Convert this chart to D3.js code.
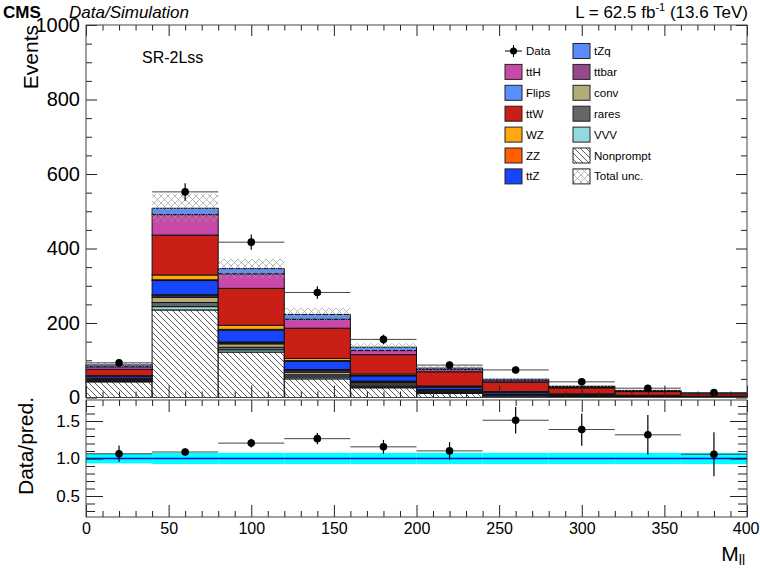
<!DOCTYPE html>
<html>
<head>
<meta charset="utf-8">
<script src="https://cdn.jsdelivr.net/npm/d3@7"></script>
<style>
  body { margin: 0; background: #fff; }
  text { font-family: "Liberation Sans", Arial, Helvetica, sans-serif; fill: #000; }
</style>
</head>
<body>
<svg id="chart" width="760" height="569"></svg>
<script>
// ---- binning (M_ll, GeV) ----
const binEdges = [0, 40, 80, 120, 160, 200, 240, 280, 320, 360, 400];

// ---- expected yields per process, one value per bin ----
const nonprompt = [42, 235, 122, 50, 26, 11, 4, 2, 1, 0.5];
const vvv       = [1, 9, 6, 5, 3, 1, 0.5, 0.3, 0.2, 0.2];
const rares     = [3, 11, 7, 6, 5, 3, 1.5, 1, 0.7, 0.5];
const conv      = [3, 14, 9, 7, 5, 3, 1.5, 1, 0.6, 0.4];
const ttbar     = [2, 4, 3, 4, 3, 2, 1, 0.7, 0.4, 0.3];
const tzq       = [0.5, 3, 2, 3, 2, 1, 0.5, 0.5, 0.3, 0.2];
const ttz       = [5, 38, 32, 22, 14, 7, 5, 3, 2, 1.2];
const zz        = [0.5, 2, 2, 2, 1, 1, 0.5, 0.3, 0.2, 0.1];
const wz        = [1.5, 13, 11, 6, 4, 2, 1.5, 1, 0.6, 0.4];
const ttw       = [17, 107, 99, 81, 52, 38, 25, 16, 10, 6.5];
const tth       = [7, 55, 39, 24, 11, 6, 4, 2.5, 1.5, 1];
const flips     = [5, 17, 14, 13, 9, 4, 4, 2, 1.5, 1];

// ---- observed data and its uncertainty ----
const dataCounts = [93, 552, 417, 282, 156, 87, 74, 42, 25, 13];
const dataErr    = [9.6, 23.5, 20.4, 16.8, 12.5, 9.3, 8.6, 6.5, 5, 3.6];

// ---- relative total uncertainty on the prediction ----
const relUnc = [0.065, 0.075, 0.075, 0.075, 0.075, 0.075, 0.075, 0.075, 0.075, 0.075];

// ---- axis tick values ----
const mainYTicks  = [0, 200, 400, 600, 800, 1000];
const ratioYTicks = [0.5, 1.0, 1.5];
const xTicks      = [0, 50, 100, 150, 200, 250, 300, 350, 400];

// stacking order, bottom to top
const processes = [
  { key: "Nonprompt", values: nonprompt, color: null },
  { key: "VVV",   values: vvv,   color: "#92dadd" },
  { key: "rares", values: rares, color: "#666666" },
  { key: "conv",  values: conv,  color: "#b2ac7b" },
  { key: "ttbar", values: ttbar, color: "#964a8b" },
  { key: "tZq",   values: tzq,   color: "#5a8cff" },
  { key: "ttZ",   values: ttz,   color: "#1845fb" },
  { key: "ZZ",    values: zz,    color: "#ff5e02" },
  { key: "WZ",    values: wz,    color: "#ffa90e" },
  { key: "ttW",   values: ttw,   color: "#c91f16" },
  { key: "ttH",   values: tth,   color: "#c849a9" },
  { key: "Flips", values: flips, color: "#5790fc" }
];
const colorOf = Object.fromEntries(processes.map(p => [p.key, p.color]));

const rows = dataCounts.map((_, i) => {
  const r = { lo: binEdges[i], hi: binEdges[i + 1] };
  processes.forEach(p => { r[p.key] = p.values[i]; });
  return r;
});
const stacked = d3.stack().keys(processes.map(p => p.key))(rows);
const totals = rows.map((r, i) => d3.sum(processes, p => p.values[i]));

// ---- geometry ----
const X0 = 86, X1 = 747;
const M_TOP = 25, M_BOT = 397.5;
const R_TOP = 400, R_BOT = 517;

const x  = d3.scaleLinear([0, 400], [X0, X1]);
const y  = d3.scaleLinear([0, 1000], [M_BOT, M_TOP]);
const yr = d3.scaleLinear([0.22, 1.78], [R_BOT, R_TOP]);

const svg = d3.select("#chart");
const defs = svg.append("defs");

// single-hatch for nonprompt
const pNP = defs.append("pattern").attr("id", "hatchNP")
  .attr("patternUnits", "userSpaceOnUse").attr("width", 6).attr("height", 6);
pNP.append("rect").attr("width", 6).attr("height", 6).attr("fill", "#fff");
pNP.append("path").attr("d", "M0,0L6,6M-1,5L1,7M5,-1L7,1")
  .attr("stroke", "#333").attr("stroke-width", 0.8);

// cross-hatch for total uncertainty
const pU = defs.append("pattern").attr("id", "hatchUnc")
  .attr("patternUnits", "userSpaceOnUse").attr("width", 7).attr("height", 7);
pU.append("path").attr("d", "M0,0L7,7M7,0L0,7")
  .attr("stroke", "#999").attr("stroke-width", 0.7).attr("fill", "none");

const main = svg.append("g");

// ---- stacked histograms ----
stacked.forEach(layer => {
  main.append("g").selectAll("rect").data(layer).join("rect")
    .attr("x", d => x(d.data.lo))
    .attr("y", d => y(d[1]))
    .attr("width", d => x(d.data.hi) - x(d.data.lo))
    .attr("height", d => y(d[0]) - y(d[1]))
    .attr("fill", colorOf[layer.key] || "url(#hatchNP)")
    .attr("stroke", "#111").attr("stroke-width", 1);
});

// ---- total uncertainty band ----
main.append("g").selectAll("rect").data(rows).join("rect")
  .attr("x", d => x(d.lo))
  .attr("y", (d, i) => y(totals[i] * (1 + relUnc[i])))
  .attr("width", d => x(d.hi) - x(d.lo))
  .attr("height", (d, i) => y(totals[i] * (1 - relUnc[i])) - y(totals[i] * (1 + relUnc[i])))
  .attr("fill", "url(#hatchUnc)");

// ---- data points ----
const dg = main.append("g");
rows.forEach((r, i) => {
  const cx = x((r.lo + r.hi) / 2), cy = y(dataCounts[i]);
  dg.append("line").attr("x1", x(r.lo)).attr("x2", x(r.hi)).attr("y1", cy).attr("y2", cy)
    .attr("stroke", "#444").attr("stroke-width", 1);
  dg.append("line").attr("x1", cx).attr("x2", cx)
    .attr("y1", y(dataCounts[i] + dataErr[i])).attr("y2", y(dataCounts[i] - dataErr[i]))
    .attr("stroke", "#000").attr("stroke-width", 1.2);
  dg.append("circle").attr("cx", cx).attr("cy", cy).attr("r", 3.8).attr("fill", "#000");
});

// ---- ratio panel ----
const rg = svg.append("g");
rg.append("g").selectAll("rect").data(rows).join("rect")
  .attr("x", d => x(d.lo))
  .attr("y", (d, i) => yr(1 + relUnc[i]))
  .attr("width", d => x(d.hi) - x(d.lo))
  .attr("height", (d, i) => yr(1 - relUnc[i]) - yr(1 + relUnc[i]))
  .attr("fill", "#00ffff");
rg.append("line").attr("x1", X0).attr("x2", X1).attr("y1", yr(1)).attr("y2", yr(1))
  .attr("stroke", "#0000ee").attr("stroke-width", 1.5);
rows.forEach((r, i) => {
  const ratio = dataCounts[i] / totals[i];
  const rErr = dataErr[i] / totals[i];
  const cx = x((r.lo + r.hi) / 2), cy = yr(ratio);
  rg.append("line").attr("x1", x(r.lo)).attr("x2", x(r.hi)).attr("y1", cy).attr("y2", cy)
    .attr("stroke", "#444").attr("stroke-width", 1);
  rg.append("line").attr("x1", cx).attr("x2", cx)
    .attr("y1", yr(ratio + rErr)).attr("y2", yr(ratio - rErr))
    .attr("stroke", "#000").attr("stroke-width", 1.2);
  rg.append("circle").attr("cx", cx).attr("cy", cy).attr("r", 3.8).attr("fill", "#000");
});

// ---- axes (ticks point inward) ----
function ax(gen, tx, ty, size, labels, fontSize, pad) {
  const g = svg.append("g").attr("transform", `translate(${tx},${ty})`);
  gen.tickSize(size).tickPadding(pad || 6);
  if (!labels) gen.tickFormat("");
  g.call(gen);
  g.select(".domain").remove();
  g.selectAll(".tick line").attr("stroke", "#222").attr("stroke-width", 1);
  g.selectAll(".tick text").attr("font-size", fontSize || 12)
    .attr("font-family", "'Liberation Sans', Arial, sans-serif").attr("fill", "#000");
  return g;
}
const minorMainY = d3.range(0, 1001, 50).filter(v => v % 200 !== 0);
const minorX = d3.range(0, 401, 10).filter(v => v % 50 !== 0);
const minorRatioY = [0.3, 0.4, 0.6, 0.7, 0.8, 0.9, 1.1, 1.2, 1.3, 1.4, 1.6, 1.7];

// main panel
ax(d3.axisLeft(y).tickValues(mainYTicks).tickFormat(d3.format("d")), X0, 0, -11, true, 20, 6);
ax(d3.axisLeft(y).tickValues(minorMainY), X0, 0, -6, false);
ax(d3.axisRight(y).tickValues(mainYTicks), X1, 0, -11, false);
ax(d3.axisRight(y).tickValues(minorMainY), X1, 0, -6, false);
ax(d3.axisTop(x).tickValues(xTicks), 0, M_TOP, -11, false);
ax(d3.axisTop(x).tickValues(minorX), 0, M_TOP, -5.5, false);
ax(d3.axisBottom(x).tickValues(xTicks), 0, M_BOT, -12, false);
ax(d3.axisBottom(x).tickValues(minorX), 0, M_BOT, -6, false);

// ratio panel
ax(d3.axisLeft(yr).tickValues(ratioYTicks).tickFormat(d3.format(".1f")), X0, 0, -17, true, 17, 6);
ax(d3.axisLeft(yr).tickValues(minorRatioY), X0, 0, -9, false);
ax(d3.axisRight(yr).tickValues(ratioYTicks), X1, 0, -17, false);
ax(d3.axisRight(yr).tickValues(minorRatioY), X1, 0, -9, false);
const xLab = ax(d3.axisBottom(x).tickValues(xTicks).tickFormat(d3.format("d")), 0, R_BOT, -12, true, 16, 6);
// keep the last label inside the canvas
xLab.selectAll(".tick text").filter(d => d === 400).attr("text-anchor", "end").attr("dx", "12");
ax(d3.axisBottom(x).tickValues(minorX), 0, R_BOT, -6, false);
ax(d3.axisTop(x).tickValues(xTicks), 0, R_TOP, -12, false);
ax(d3.axisTop(x).tickValues(minorX), 0, R_TOP, -6, false);

// frames
svg.append("rect").attr("x", X0).attr("y", M_TOP).attr("width", X1 - X0).attr("height", M_BOT - M_TOP)
  .attr("fill", "none").attr("stroke", "#444").attr("stroke-width", 1);
svg.append("rect").attr("x", X0).attr("y", R_TOP).attr("width", X1 - X0).attr("height", R_BOT - R_TOP)
  .attr("fill", "none").attr("stroke", "#444").attr("stroke-width", 1);

// ---- titles and labels ----
svg.append("text").attr("x", 3).attr("y", 18).attr("font-size", 17).attr("font-weight", "bold").text("CMS");
svg.append("text").attr("x", 69).attr("y", 18).attr("font-size", 17).attr("font-style", "italic").text("Data/Simulation");
const lumi = svg.append("text").attr("x", 748).attr("y", 18).attr("font-size", 17).attr("text-anchor", "end");
lumi.append("tspan").text("L = 62.5 fb");
lumi.append("tspan").attr("dy", -7).attr("font-size", 11).text("-1");
lumi.append("tspan").attr("dy", 7).text(" (13.6 TeV)");

svg.append("text").attr("transform", "translate(38,25) rotate(-90)")
  .attr("text-anchor", "end").attr("font-size", 21).text("Events");
svg.append("text").attr("transform", "translate(33,446) rotate(-90)")
  .attr("text-anchor", "middle").attr("font-size", 21).text("Data/pred.");
const xl = svg.append("text").attr("x", 745).attr("y", 561).attr("text-anchor", "end").attr("font-size", 21);
xl.append("tspan").text("M");
xl.append("tspan").attr("dy", 4).attr("font-size", 14).text("ll");

svg.append("text").attr("x", 142).attr("y", 63).attr("font-size", 16).text("SR-2Lss");

// ---- legend ----
const legendCols = [
  ["Data", "ttH", "Flips", "ttW", "WZ", "ZZ", "ttZ"],
  ["tZq", "ttbar", "conv", "rares", "VVV", "Nonprompt", "Total unc."]
];
const colX = [505, 573];
const rowY0 = 51, rowStep = 20.9;
const lg = svg.append("g");
legendCols.forEach((col, c) => {
  col.forEach((name, r) => {
    const cy = rowY0 + r * rowStep;
    const bx = colX[c];
    if (name === "Data") {
      lg.append("line").attr("x1", bx).attr("x2", bx + 17).attr("y1", cy).attr("y2", cy).attr("stroke", "#000");
      lg.append("line").attr("x1", bx + 8.5).attr("x2", bx + 8.5).attr("y1", cy - 6).attr("y2", cy + 6).attr("stroke", "#000");
      lg.append("circle").attr("cx", bx + 8.5).attr("cy", cy).attr("r", 3.5).attr("fill", "#000");
    } else {
      let fill = colorOf[name];
      if (name === "Nonprompt") fill = "url(#hatchNP)";
      if (name === "Total unc.") fill = "url(#hatchUnc)";
      lg.append("rect").attr("x", bx).attr("y", cy - 7.5).attr("width", 17).attr("height", 15)
        .attr("fill", fill).attr("stroke", "#222").attr("stroke-width", 1);
    }
    lg.append("text").attr("x", bx + 21).attr("y", cy + 4).attr("font-size", 11.5).text(name);
  });
});
</script>
</body>
</html>
